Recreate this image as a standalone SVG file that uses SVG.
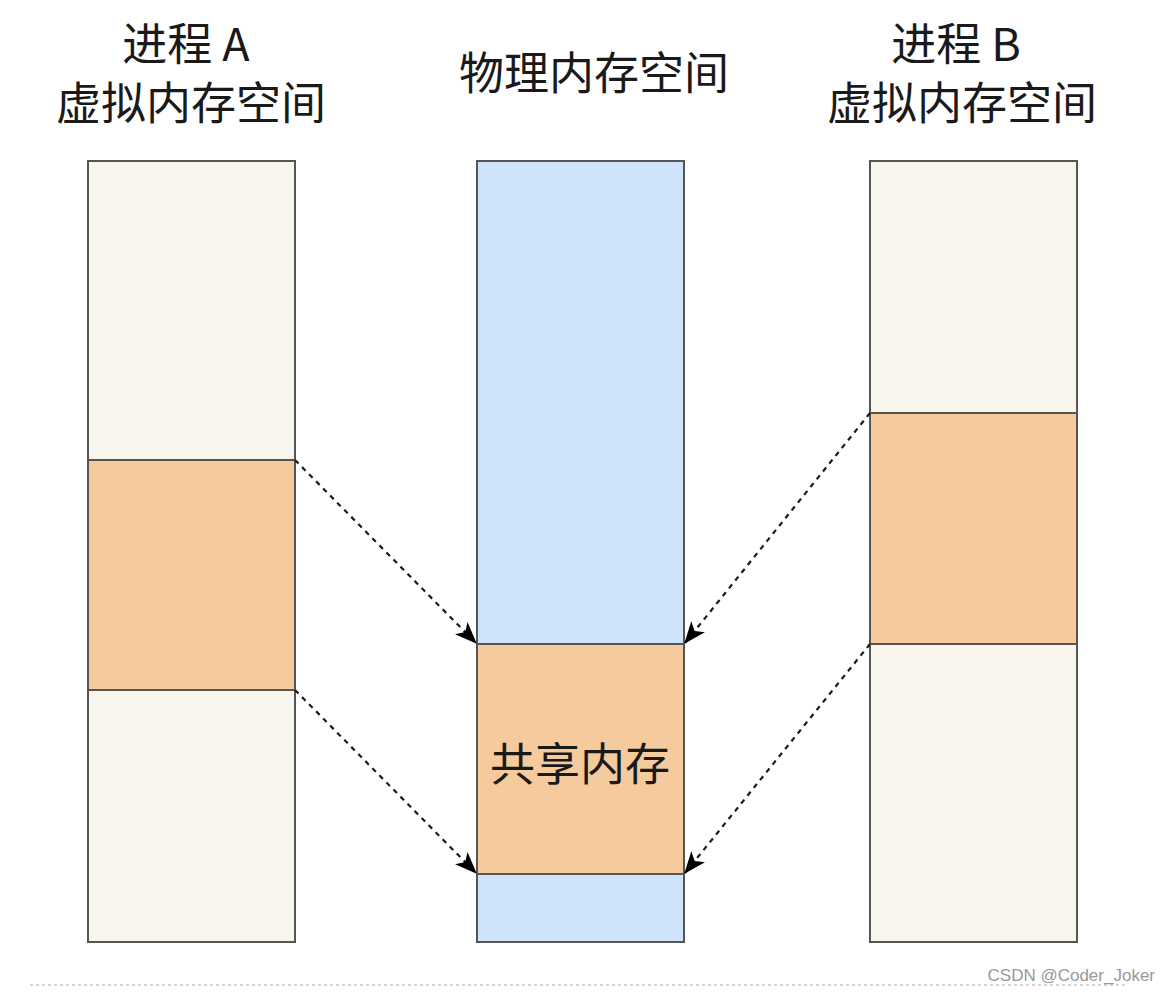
<svg xmlns="http://www.w3.org/2000/svg" width="1172" height="994" viewBox="0 0 1172 994">
<defs>
<style>
.t{font-family:"Noto Sans CJK SC","Noto Sans",sans-serif;font-size:45px;fill:#1a1a1a;text-anchor:middle}
.beige{fill:#f9f6ee;stroke:#555;stroke-width:2}
.org{fill:#f5cb9d;stroke:#555;stroke-width:2}
.blue{fill:#cfe3fb;stroke:#555;stroke-width:2}
.c{fill:none;stroke:#1a1a1a;stroke-width:2.2;stroke-dasharray:5 5}
</style>
<marker id="ah" viewBox="0 0 20 20" refX="19" refY="10" markerWidth="22" markerHeight="22" markerUnits="userSpaceOnUse" orient="auto">
<path d="M0,2 L20,10 L0,18 L5,10 Z" fill="#000"/>
</marker>
</defs>
<rect width="1172" height="994" fill="#fff"/>
<g id="title-a"><text class="t" x="186" y="61">进程 A</text><text class="t" x="191" y="120">虚拟内存空间</text></g>
<g id="title-phys"><text class="t" x="594" y="90">物理内存空间</text></g>
<g id="title-b"><text class="t" x="956" y="61">进程 B</text><text class="t" x="962" y="120">虚拟内存空间</text></g>
<g id="col-a">
<rect class="beige" x="88" y="161" width="207" height="299"/>
<rect class="org" x="88" y="460" width="207" height="230"/>
<rect class="beige" x="88" y="690" width="207" height="252"/>
</g>
<g id="col-phys">
<rect class="blue" x="477" y="161" width="207" height="483"/>
<rect class="org" x="477" y="644" width="207" height="230"/>
<rect class="blue" x="477" y="874" width="207" height="68"/>
<text class="t" x="580" y="781" font-size="46">共享内存</text>
</g>
<g id="col-b">
<rect class="beige" x="870" y="161" width="207" height="252"/>
<rect class="org" x="870" y="413" width="207" height="231"/>
<rect class="beige" x="870" y="644" width="207" height="298"/>
</g>
<g id="connectors">
<line class="c" x1="295" y1="460" x2="476" y2="643" marker-end="url(#ah)"/>
<line class="c" x1="295" y1="690" x2="476" y2="873" marker-end="url(#ah)"/>
<line class="c" x1="870" y1="413" x2="685" y2="643" marker-end="url(#ah)"/>
<line class="c" x1="870" y1="644" x2="685" y2="873" marker-end="url(#ah)"/>
</g>
<g id="watermark">
<line x1="30" y1="985" x2="1125" y2="985" stroke="#aaa" stroke-width="1" stroke-dasharray="3 3"/>
<text x="1155" y="981" font-family="'Liberation Sans',sans-serif" font-size="17" fill="#999" text-anchor="end">CSDN @Coder_Joker</text>
</g>
</svg>
